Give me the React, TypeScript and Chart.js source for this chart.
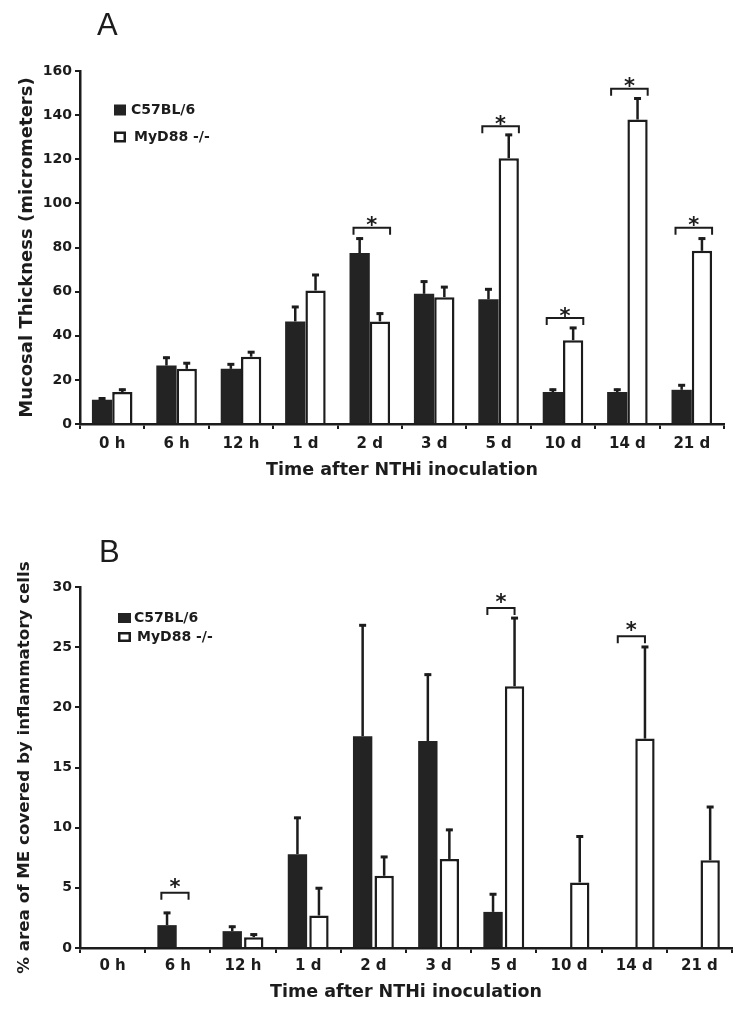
import React, { useEffect, useRef } from 'react';
import { Chart, registerables } from 'chart.js';

Chart.register(...registerables);

// ---------- data ----------
const timePoints = ['0 h', '6 h', '12 h', '1 d', '2 d', '3 d', '5 d', '10 d', '14 d', '21 d'];
const seriesNames = ['C57BL/6', 'MyD88 -/-'];

// Panel A: mucosal thickness (micrometers), mean and SE
const thicknessC57 = [11, 26.5, 25, 46.5, 77.5, 59, 56.5, 14.5, 14.5, 15.5];
const thicknessC57Err = [1, 4, 2.5, 7, 7, 6, 5, 1.5, 1.5, 2.5];
const thicknessMyD88 = [14.5, 25, 30.5, 60.5, 46.5, 57.5, 120.5, 38, 138, 78.5];
const thicknessMyD88Err = [1.5, 3, 2.5, 7.5, 4, 5, 11, 6, 10, 6];
const thicknessSigLevel = [null, null, null, null, 89, null, 135, 48, 152, 89];
const thicknessTicks = [0, 20, 40, 60, 80, 100, 120, 140, 160];

// Panel B: % area of ME covered by inflammatory cells, mean and SE
const areaC57 = [0, 1.9, 1.4, 7.8, 17.6, 17.2, 3.0, 0, 0, 0];
const areaC57Err = [0, 1.1, 0.45, 3.1, 9.3, 5.6, 1.55, 0, 0, 0];
const areaMyD88 = [0, 0, 0.9, 2.7, 6.0, 7.4, 21.75, 5.45, 17.4, 7.3];
const areaMyD88Err = [0, 0, 0.3, 2.35, 1.65, 2.5, 5.75, 3.9, 7.7, 4.5];
const areaSigLevel = [null, 4.6, null, null, null, null, 28.25, null, 25.9, null];
const areaTicks = [0, 5, 10, 15, 20, 25, 30];

const xTitle = 'Time after NTHi inoculation';
const yTitleA = 'Mucosal Thickness (micrometers)';
const yTitleB = '% area of ME covered by inflammatory cells';

// ---------- styling ----------
const INK = '#1c1c1c';
const BAR_DARK = '#232323';
const FONT = 'DejaVu Sans';

type ExtrasCfg = {
  errors: number[][];
  sig: (number | null)[];
  spanToWhiteCenter: boolean;
  starGap: number;
  legendBoxX: number;
  legendTextX: number;
  legendRows: number[];
  legendBox: [number, number];
};

function makeExtras(cfg: ExtrasCfg) {
  return {
    id: 'extras',
    afterDatasetsDraw(chart: any) {
      const ctx = chart.ctx as CanvasRenderingContext2D;
      const ys = chart.scales.y;
      ctx.save();
      ctx.strokeStyle = INK;
      ctx.fillStyle = INK;
      ctx.lineCap = 'butt';
      // error bars (upper only)
      chart.data.datasets.forEach((ds: any, di: number) => {
        const meta = chart.getDatasetMeta(di);
        const errs = cfg.errors[di];
        meta.data.forEach((el: any, j: number) => {
          const v = ds.data[j] as number;
          const e = errs[j];
          if (!v || !e) return;
          const top = ys.getPixelForValue(v + e);
          ctx.lineWidth = 2.5;
          ctx.beginPath();
          ctx.moveTo(el.x, el.y);
          ctx.lineTo(el.x, top);
          ctx.stroke();
          ctx.lineWidth = 3;
          ctx.beginPath();
          ctx.moveTo(el.x - 3.5, top + 1);
          ctx.lineTo(el.x + 3.5, top + 1);
          ctx.stroke();
        });
      });
      // significance brackets and stars
      const m0 = chart.getDatasetMeta(0);
      const m1 = chart.getDatasetMeta(1);
      cfg.sig.forEach((lvl, j) => {
        if (lvl == null) return;
        const b0 = m0.data[j];
        const b1 = m1.data[j];
        const left = b0.x - b0.width / 2 + 4;
        const right = cfg.spanToWhiteCenter ? b1.x : b1.x + b1.width / 2;
        const y = ys.getPixelForValue(lvl);
        ctx.lineWidth = 2;
        ctx.beginPath();
        ctx.moveTo(left, y + 7);
        ctx.lineTo(left, y);
        ctx.lineTo(right, y);
        ctx.lineTo(right, y + 7);
        ctx.stroke();
        ctx.font = `bold 21px "${FONT}"`;
        ctx.textAlign = 'center';
        ctx.textBaseline = 'alphabetic';
        ctx.fillText('*', (left + right) / 2, y - cfg.starGap + 0.6 * 21);
      });
      // legend
      chart.data.datasets.forEach((ds: any, di: number) => {
        const cy = cfg.legendRows[di];
        const [bw, bh] = cfg.legendBox;
        if (di === 0) {
          ctx.fillStyle = BAR_DARK;
          ctx.fillRect(cfg.legendBoxX, cy - bh / 2, bw, bh);
        } else {
          ctx.fillStyle = '#fff';
          ctx.fillRect(cfg.legendBoxX, cy - bh / 2, bw, bh);
          ctx.lineWidth = 2.5;
          ctx.strokeRect(cfg.legendBoxX + 1.25, cy - bh / 2 + 1.25, bw - 2.5, bh - 2.5);
        }
        ctx.fillStyle = INK;
        ctx.font = `bold 14px "${FONT}"`;
        ctx.textAlign = 'left';
        ctx.textBaseline = 'middle';
        ctx.fillText(ds.label, di === 0 ? cfg.legendTextX : cfg.legendTextX + 3, cy);
      });
      ctx.restore();
    },
  };
}

type PanelCfg = {
  height: number;
  c57: number[];
  myd: number[];
  yMax: number;
  yTicks: number[];
  yTitle: string;
  yTitleSize: number;
  yTitlePad: number;
  padTop: number;
  padRight: number;
  xHeight: number;
  xTickPad: number;
  xTitlePadBottom: number;
  catPct: number;
  barPct: number;
  extras: ExtrasCfg;
};

function Panel({ cfg }: { cfg: PanelCfg }) {
  const ref = useRef<HTMLCanvasElement | null>(null);
  useEffect(() => {
    if (!ref.current) return;
    const bwWhite = (ctx: any) => (ctx.raw > 0 ? 2.5 : 0);
    const chart = new Chart(ref.current, {
      type: 'bar',
      data: {
        labels: timePoints,
        datasets: [
          {
            label: seriesNames[0],
            data: cfg.c57,
            backgroundColor: BAR_DARK,
            borderColor: BAR_DARK,
            borderWidth: 0,
            categoryPercentage: cfg.catPct,
            barPercentage: cfg.barPct,
          },
          {
            label: seriesNames[1],
            data: cfg.myd,
            backgroundColor: '#ffffff',
            borderColor: INK,
            borderWidth: bwWhite,
            categoryPercentage: cfg.catPct,
            barPercentage: cfg.barPct,
          },
        ],
      },
      options: {
        responsive: false,
        animation: false,
        devicePixelRatio: 1,
        layout: { padding: { top: cfg.padTop, right: cfg.padRight, left: 0, bottom: 0 } },
        plugins: { legend: { display: false }, tooltip: { enabled: false } },
        scales: {
          x: {
            grid: { display: true, drawOnChartArea: false, drawTicks: true, tickLength: 5, color: INK, lineWidth: 2, offset: true },
            border: { display: true, color: INK, width: 2.5 },
            ticks: { color: INK, font: { family: FONT, weight: 'bold', size: 15 }, padding: cfg.xTickPad, maxRotation: 0, autoSkip: false },
            title: {
              display: true,
              text: xTitle,
              color: INK,
              font: { family: FONT, weight: 'bold', size: 17.5 },
              padding: { top: 4, bottom: cfg.xTitlePadBottom },
            },
            afterFit: (s: any) => { s.height = cfg.xHeight; },
          },
          y: {
            min: 0,
            max: cfg.yMax,
            grid: { display: true, drawOnChartArea: false, drawTicks: true, tickLength: 5, color: INK, lineWidth: 2 },
            border: { display: true, color: INK, width: 2.5 },
            ticks: { color: INK, font: { family: FONT, weight: 'bold', size: 14 }, padding: 3 },
            afterBuildTicks: (s: any) => { s.ticks = cfg.yTicks.map((v) => ({ value: v })); },
            title: {
              display: true,
              text: cfg.yTitle,
              color: INK,
              font: { family: FONT, weight: 'bold', size: cfg.yTitleSize },
              padding: { top: cfg.yTitlePad, bottom: 0 },
            },
            afterFit: (s: any) => { s.width = 80; },
          },
        },
      },
      plugins: [makeExtras(cfg.extras)],
    } as any);
    return () => chart.destroy();
  }, [cfg]);
  return <canvas ref={ref} width={742} height={cfg.height} style={{ display: 'block', width: 742, height: cfg.height }} />;
}

const panelA: PanelCfg = {
  height: 500,
  c57: thicknessC57,
  myd: thicknessMyD88,
  yMax: 160,
  yTicks: thicknessTicks,
  yTitle: yTitleA,
  yTitleSize: 18,
  yTitlePad: 17,
  padTop: 71,
  padRight: 18,
  xHeight: 76,
  xTickPad: 6,
  xTitlePadBottom: 19.5,
  catPct: 0.63,
  barPct: 1.0,
  extras: {
    errors: [thicknessC57Err, thicknessMyD88Err],
    sig: thicknessSigLevel,
    spanToWhiteCenter: false,
    starGap: 8,
    legendBoxX: 114,
    legendTextX: 131,
    legendRows: [110, 137],
    legendBox: [12, 11],
  },
};

const panelB: PanelCfg = {
  height: 511,
  c57: areaC57,
  myd: areaMyD88,
  yMax: 30,
  yTicks: areaTicks,
  yTitle: yTitleB,
  yTitleSize: 16.7,
  yTitlePad: 15,
  padTop: 87,
  padRight: 10,
  xHeight: 63,
  xTickPad: 4,
  xTitlePadBottom: 8.5,
  catPct: 0.66,
  barPct: 0.9,
  extras: {
    errors: [areaC57Err, areaMyD88Err],
    sig: areaSigLevel,
    spanToWhiteCenter: true,
    starGap: 11.5,
    legendBoxX: 118,
    legendTextX: 134,
    legendRows: [618, 637].map((v) => v - 500),
    legendBox: [13, 10],
  },
};

const letterStyle: React.CSSProperties = {
  position: 'absolute',
  left: 97,
  fontFamily: '"Liberation Sans", Arial, sans-serif',
  fontSize: 31,
  lineHeight: '31px',
  color: INK,
  margin: 0,
};

export default function App() {
  return (
    <div style={{ position: 'absolute', left: 0, top: 0, width: 742, height: 1011, background: '#fff' }}>
      <Panel cfg={panelA} />
      <Panel cfg={panelB} />
      <div style={{ ...letterStyle, top: 9 }}>A</div>
      <div style={{ ...letterStyle, top: 536, left: 99 }}>B</div>
    </div>
  );
}
